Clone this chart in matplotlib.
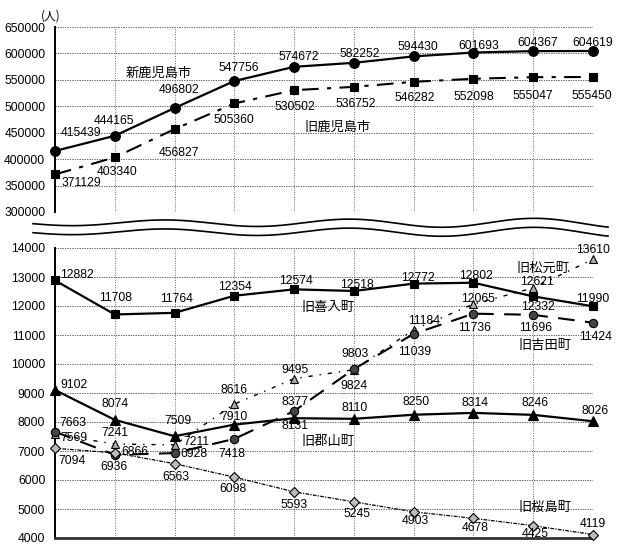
import numpy as np
import matplotlib
matplotlib.use('Agg')
import matplotlib.pyplot as plt

plt.rcParams['font.family'] = ['Liberation Sans', 'Noto Sans CJK JP', 'DejaVu Sans']

# census years, ten points (no x labels drawn)
n_points = 10

# city totals (upper panel)
shin_kagoshima = [415439, 444165, 496802, 547756, 574672, 582252, 594430, 601693, 604367, 604619]
kyu_kagoshima = [371129, 403340, 456827, 505360, 530502, 536752, 546282, 552098, 555047, 555450]

# former towns (lower panel)
kiire = [12882, 11708, 11764, 12354, 12574, 12518, 12772, 12802, 12332, 11990]
matsumoto = [7569, 7241, 7211, 8616, 9495, 9803, 11184, 12065, 12621, 13610]
koriyama = [9102, 8074, 7509, 7910, 8131, 8110, 8250, 8314, 8246, 8026]
yoshida = [7663, 6866, 6928, 7418, 8377, 9824, 11039, 11736, 11696, 11424]
sakurajima = [7094, 6936, 6563, 6098, 5593, 5245, 4903, 4678, 4425, 4119]

top_ticks = list(range(300000, 650001, 50000))
bottom_ticks = list(range(4000, 14001, 1000))

W, H = 624, 546
fig = plt.figure(figsize=(W / 100, H / 100), dpi=100)

def px_axes(x0, y0, x1, y1):
    return fig.add_axes([x0 / W, 1 - y1 / H, (x1 - x0) / W, (y1 - y0) / H])

ax_top = px_axes(55, 27, 593, 212)
ax_bot = px_axes(55, 248, 593, 538)

x = np.arange(n_points)

for ax, ticks in [(ax_top, top_ticks), (ax_bot, bottom_ticks)]:
    ax.set_xlim(0, n_points - 1)
    ax.set_ylim(ticks[0], ticks[-1])
    ax.set_yticks(ticks)
    ax.set_yticklabels([str(t) for t in ticks], fontsize=8.7)
    ax.set_xticks(x)
    ax.tick_params(axis='y', length=0, pad=7)
    ax.tick_params(axis='x', length=0, labelbottom=False)
    for s in ['top', 'right', 'bottom']:
        ax.spines[s].set_visible(False)
    ax.spines['left'].set_linewidth(1.4)
    ax.grid(True, color='#666666', linestyle=(0, (1, 1.5)), linewidth=0.7)
    for t in ticks:
        ax.axhline(t, color='#666666', linestyle=(0, (1, 1.5)), linewidth=0.7, zorder=0)

ax_bot.spines['bottom'].set_visible(True)
ax_bot.spines['bottom'].set_linewidth(2)
ax_bot.spines['bottom'].set_color('#333333')


def draw(ax, vals, ls, lw, marker, ms, mfc, offsets, ha_first='center'):
    ax.plot(x, vals, color='black', linestyle=ls, linewidth=lw, marker=marker,
            markersize=ms, markerfacecolor=mfc, markeredgecolor='black',
            markeredgewidth=0.8, clip_on=False, zorder=3)
    for i, v in enumerate(vals):
        dx, dy = offsets[i]
        ax.annotate(str(v), (x[i], v), xytext=(dx, dy), textcoords='offset pixels',
                    ha='center', va='center', fontsize=8.7, zorder=4)


draw(ax_top, shin_kagoshima, '-', 1.6, 'o', 7, 'black',
     [(26, 18), (-1, 15), (5, 18), (4, 13), (5, 10), (6, 9), (4, 9), (5, 7), (4, 8), (0, 8)])
draw(ax_top, kyu_kagoshima, (0, (8, 4, 2, 4)), 1.5, 's', 5.5, 'black',
     [(26, -9), (2, -15), (4, -24), (0, -17), (1, -17), (2, -17), (1, -16), (0, -18), (0, -19), (-1, -19)])

draw(ax_bot, kiire, '-', 1.6, 's', 5.5, 'black',
     [(22, 5), (1, 16), (2, 14), (1, 9), (2, 8), (3, 6), (4, 6), (3, 7), (5, -11), (0, 7)])
draw(ax_bot, matsumoto, (0, (3, 5, 1, 5)), 1.0, '^', 6, '#aaaaaa',
     [(19, -4), (0, 11), (22, 3), (0, 14), (1, 9), (1, 16), (10, 9), (5, 5), (4, 6), (0, 9)])
draw(ax_bot, koriyama, '-', 1.6, '^', 7, 'black',
     [(19, 5), (0, 16), (3, 15), (0, 8), (1, -8), (1, 11), (2, 13), (2, 10), (2, 12), (2, 10)])
draw(ax_bot, yoshida, (0, (8, 5)), 1.5, 'o', 6, '#444444',
     [(18, 9), (20, 3), (19, -1), (-2, -15), (1, 9), (0, -17), (1, -18), (1, -14), (2, -13), (3, -14)])
draw(ax_bot, sakurajima, (0, (3, 1, 1, 1)), 0.9, 'D', 5, '#bbbbbb',
     [(17, -13), (-1, -14), (1, -13), (-1, -12), (0, -13), (3, -12), (2, -9), (2, -10), (2, -8), (0, 11)])

# series names
names = [('新鹿児島市', 159, 73), ('旧鹿児島市', 338, 127), ('旧喜入町', 328, 307),
         ('旧松元町', 543, 268), ('旧吉田町', 545, 346), ('旧郡山町', 328, 441),
         ('旧桜島町', 545, 507)]
for label, px, py in names:
    fig.text(px / W, 1 - py / H, label, ha='center', va='center', fontsize=9.5,
             family=['Noto Sans CJK JP', 'DejaVu Sans'])

fig.text(51 / W, 1 - 16 / H, '(人)', ha='center', va='center', fontsize=8.5,
         family=['Noto Sans CJK JP', 'DejaVu Sans'])

# axis break: two wavy lines across the figure
wx = np.linspace(33, 608, 400)
amp = 2.5 + 2.5 * (wx - 33) / 575
wy = 223 + amp * np.sin((wx - 60) / 185 * 2 * np.pi + 1.2)
for off in (0, 9):
    fig.add_artist(plt.Line2D(wx / W, 1 - (wy + off) / H, color='black', linewidth=1.2))

plt.savefig('out.png', dpi=100)
